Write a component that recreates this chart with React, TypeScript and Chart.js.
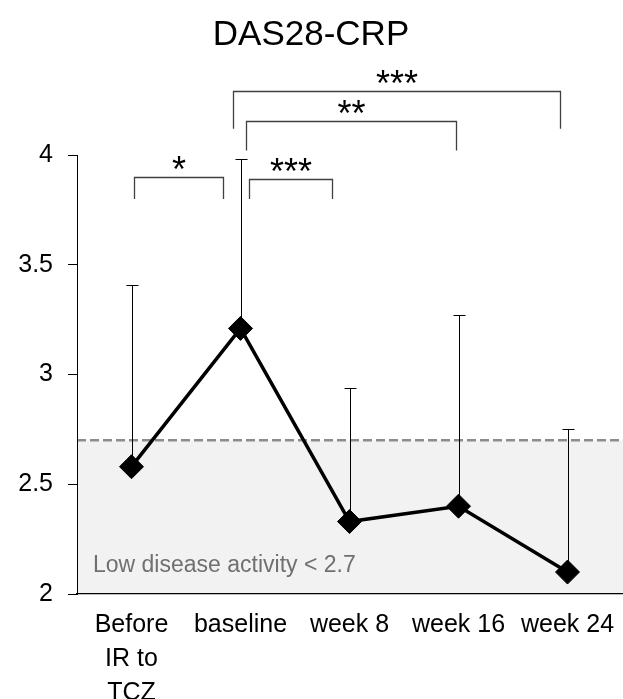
import React, { useEffect, useRef } from 'react';
import { Chart, registerables } from 'chart.js';

Chart.register(...registerables);

const FONT = '"Liberation Sans", Arial, Helvetica, sans-serif';

const titleText = 'DAS28-CRP';
const categories: (string | string[])[] = [['Before', 'IR to', 'TCZ'], 'baseline', 'week 8', 'week 16', 'week 24'];
const meanValues = [2.58, 3.21, 2.33, 2.40, 2.10];
const sdValues = [0.83, 0.77, 0.61, 0.87, 0.65];
const yTicks = [2, 2.5, 3, 3.5, 4];
const lowActivityThreshold = 2.7;
const lowActivityLabel = 'Low disease activity < 2.7';

// significance brackets (x in category index units, y in DAS28 units)
const bracketFrom = [0.02, 1.08, 1.05, 0.93];
const bracketTo = [0.84, 1.84, 2.98, 3.93];
const bracketTop = [3.90, 3.89, 4.155, 4.29];
const bracketLegEnd = [3.80, 3.80, 4.02, 4.12];
const bracketLabels = ['*', '***', '**', '***'];

const annotationPlugin = {
  id: 'das28Annotations',
  beforeDraw(chart: any) {
    const { ctx, chartArea, scales } = chart;
    const y = scales.y;
    const yT = y.getPixelForValue(lowActivityThreshold);
    ctx.save();
    ctx.fillStyle = '#f2f2f2';
    ctx.fillRect(chartArea.left, yT, chartArea.right - chartArea.left + 1, chartArea.bottom - yT);
    ctx.strokeStyle = '#8c8c8c';
    ctx.lineWidth = 2.5;
    ctx.setLineDash([9, 4]);
    ctx.beginPath();
    ctx.moveTo(chartArea.left, yT);
    ctx.lineTo(chartArea.right + 1, yT);
    ctx.stroke();
    ctx.setLineDash([]);
    ctx.fillStyle = '#707070';
    ctx.font = `23px ${FONT}`;
    ctx.textAlign = 'left';
    ctx.textBaseline = 'alphabetic';
    ctx.fillText(lowActivityLabel, chartArea.left + 16, chartArea.bottom - 22.5);
    ctx.restore();
  },
  beforeDatasetsDraw(chart: any) {
    const { ctx, scales } = chart;
    const x = scales.x;
    const y = scales.y;
    ctx.save();
    ctx.strokeStyle = '#000';
    ctx.lineWidth = 1;
    meanValues.forEach((m, i) => {
      const px = Math.round(x.getPixelForValue(i)) + 0.5;
      const y0 = y.getPixelForValue(m);
      const y1 = Math.round(y.getPixelForValue(m + sdValues[i])) + 0.5;
      ctx.beginPath();
      ctx.moveTo(px, y0);
      ctx.lineTo(px, y1);
      ctx.moveTo(px - 6, y1);
      ctx.lineTo(px + 6, y1);
      ctx.stroke();
    });
    ctx.restore();
  },
  afterDraw(chart: any) {
    const { ctx, scales } = chart;
    const x = scales.x;
    const y = scales.y;
    ctx.save();
    bracketLabels.forEach((label, i) => {
      const x1 = Math.round(x.getPixelForValue(bracketFrom[i])) + 0.5;
      const x2 = Math.round(x.getPixelForValue(bracketTo[i])) + 0.5;
      const yt = Math.round(y.getPixelForValue(bracketTop[i])) + 0.5;
      const yl = y.getPixelForValue(bracketLegEnd[i]);
      ctx.strokeStyle = '#404040';
      ctx.lineWidth = 1.3;
      ctx.beginPath();
      ctx.moveTo(x1, yl);
      ctx.lineTo(x1, yt);
      ctx.lineTo(x2, yt);
      ctx.lineTo(x2, yl);
      ctx.stroke();
      ctx.fillStyle = '#000';
      ctx.font = `36px ${FONT}`;
      ctx.textAlign = 'center';
      ctx.textBaseline = 'alphabetic';
      ctx.fillText(label, (x1 + x2) / 2, yt + 4);
    });
    ctx.restore();
  },
};

export default function App() {
  const canvasRef = useRef<HTMLCanvasElement | null>(null);

  useEffect(() => {
    if (!canvasRef.current) return;
    const chart = new Chart(canvasRef.current, {
      type: 'line',
      data: {
        labels: categories as any,
        datasets: [
          {
            data: meanValues,
            borderColor: '#000',
            borderWidth: 3.5,
            backgroundColor: '#000',
            pointStyle: 'rectRot',
            pointRadius: 12,
            pointHoverRadius: 12,
            pointBackgroundColor: '#000',
            pointBorderColor: '#000',
            pointBorderWidth: 1,
            tension: 0,
            fill: false,
            clip: false as any,
          },
        ],
      },
      options: {
        animation: false,
        responsive: true,
        maintainAspectRatio: false,
        layout: { autoPadding: false, padding: { left: 0, right: 1, top: 0, bottom: 0 } },
        plugins: {
          legend: { display: false },
          tooltip: { enabled: false },
          title: {
            display: true,
            text: titleText,
            color: '#000',
            font: { family: FONT, size: 35, weight: 'normal' as any },
            padding: { top: 14, bottom: 99 },
          },
        },
        scales: {
          x: {
            type: 'category',
            offset: true,
            grid: { display: false, drawTicks: false },
            border: { display: true, color: '#000', width: 1.3 },
            ticks: {
              color: '#000',
              font: { family: FONT, size: 25, lineHeight: 1.36 },
              padding: 14,
              maxRotation: 0,
              autoSkip: false,
            },
            afterFit: (scale: any) => {
              scale.height = 105;
              scale.paddingLeft = 0;
              scale.paddingRight = 0;
            },
          },
          y: {
            type: 'linear',
            min: yTicks[0],
            max: yTicks[yTicks.length - 1],
            grid: {
              display: true,
              drawOnChartArea: false,
              drawTicks: true,
              tickLength: 9,
              color: '#000',
              lineWidth: 1,
            },
            border: { display: true, color: '#000', width: 1 },
            ticks: {
              color: '#000',
              font: { family: FONT, size: 25 },
              padding: 15,
              callback: (v: any) => `${v}`,
            },
            afterBuildTicks: (scale: any) => {
              scale.ticks = yTicks.map((v) => ({ value: v }));
            },
            afterFit: (scale: any) => {
              scale.width = 77;
            },
          },
        },
      },
      plugins: [annotationPlugin],
    });
    return () => chart.destroy();
  }, []);

  return (
    <div style={{ position: 'fixed', left: 0, top: 0, width: 623, height: 699, background: '#fff' }}>
      <canvas ref={canvasRef} />
    </div>
  );
}
